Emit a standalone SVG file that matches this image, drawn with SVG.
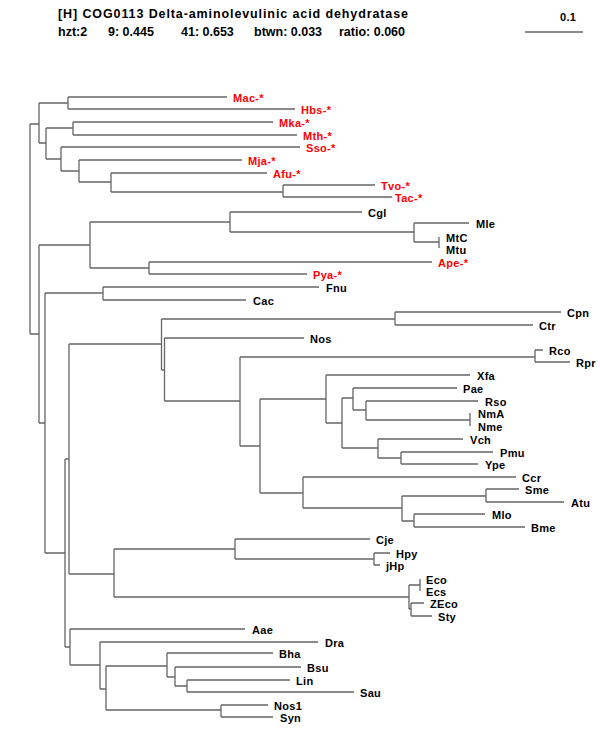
<svg xmlns="http://www.w3.org/2000/svg" width="600" height="750" viewBox="0 0 600 750">
<style>
.b{fill:none;stroke:#666;stroke-width:1.3}
.t{font-family:"Liberation Sans",Arial,sans-serif;font-weight:bold;font-size:12.5px;fill:#000}
.l{font-family:"Liberation Sans",Arial,sans-serif;font-weight:bold;font-size:11px;letter-spacing:0.3px;fill:#000}
.r{fill:#f00}
</style>
<rect width="600" height="750" fill="#fff"/>
<g id="header">
<text class="t" x="58" y="18" textLength="350" lengthAdjust="spacing">[H] COG0113 Delta-aminolevulinic acid dehydratase</text>
<text class="t" y="36"><tspan x="58">hzt:2</tspan><tspan x="108">9: 0.445</tspan><tspan x="181">41: 0.653</tspan><tspan x="254">btwn: 0.033</tspan><tspan x="339">ratio: 0.060</tspan></text>
</g>
<g id="scale">
<text class="l" x="560" y="21">0.1</text>
<path class="b" d="M525 32H583"/>
</g>
<g id="connectors">
<path class="b" d="M30 124V334M39 103V143M68 97V109M46 128V159M73 122V135M61 147V171M79 160V182M111 173V192M283 185V197M39 245V423M90 222V268M230 212V232M414 223V242M439 237V248M149 262V274M45 293V553M103 287V300M65 459V647M69 344V574M161.5 319V370M395 312V325M164.5 338V401M240 357V446M535 350V362M260 399V493M326 375V423M342 398V448M353 388V410M366 401V420M470 413V426M378 439V458M401 452V464M303 477V508M402 496V521M486 489V502M414 514V527M114 549V597M235 539V559M374 553V565M409 585V609M420 579V591M411 603V616M70 629V665M100 642V689M106 666V710M167 653V677M175 667V686M187 680V692M221 705V717"/>
<path class="b" d="M30 124H39M39 103H68M68 97H227M68 109H295M39 143H46M46 128H73M73 122H273M73 135H297M46 159H61M61 147H300M61 171H79M79 160H242M79 182H111M111 173H267M111 192H283M283 185H375M283 197H392M30 334H39M39 245H90M90 222H230M230 212H362M230 232H414M414 223H469M414 242H439M90 268H149M149 262H432M149 274H307M39 423H45M45 293H103M103 287H319M103 300H246M45 553H65M65 459H69M69 344H161.5M161.5 319H395M395 312H561M395 325H533M161.5 370H164.5M164.5 338H304M164.5 401H240M240 357H535M535 350H543M535 362H570M240 446H260M260 399H326M326 375H470M326 423H342M342 398H353M353 388H457M353 410H366M366 401H478M366 420H470M342 448H378M378 439H463M378 458H401M401 452H493M401 464H478M260 493H303M303 477H516M303 508H402M402 496H486M486 489H519M486 502H564M402 521H414M414 514H485M414 527H525M69 574H114M114 549H235M235 539H370M235 559H374M374 553H390M374 565H380M114 597H409M409 585H420M409 609H411M411 603H424M411 616H432M65 647H70M70 629H245M70 665H100M100 642H318M100 689H106M106 666H167M167 653H273M167 677H175M175 667H301M175 686H187M187 680H290M187 692H354M106 710H221M221 705H268M221 717H273"/>
</g>
<g id="Mac"><text class="l r" x="233" y="102">Mac-*</text></g>
<g id="Hbs"><text class="l r" x="301" y="114">Hbs-*</text></g>
<g id="Mka"><text class="l r" x="279" y="127">Mka-*</text></g>
<g id="Mth"><text class="l r" x="303" y="140">Mth-*</text></g>
<g id="Sso"><text class="l r" x="306" y="152">Sso-*</text></g>
<g id="Mja"><text class="l r" x="248" y="165">Mja-*</text></g>
<g id="Afu"><text class="l r" x="273" y="178">Afu-*</text></g>
<g id="Tvo"><text class="l r" x="381" y="190">Tvo-*</text></g>
<g id="Tac"><text class="l r" x="395" y="202">Tac-*</text></g>
<g id="Cgl"><text class="l" x="368" y="217">Cgl</text></g>
<g id="Mle"><text class="l" x="476" y="228">Mle</text></g>
<g id="MtC"><text class="l" x="446" y="242">MtC</text></g>
<g id="Mtu"><text class="l" x="446" y="254">Mtu</text></g>
<g id="Ape"><text class="l r" x="438" y="267">Ape-*</text></g>
<g id="Pya"><text class="l r" x="313" y="279">Pya-*</text></g>
<g id="Fnu"><text class="l" x="326" y="292">Fnu</text></g>
<g id="Cac"><text class="l" x="253" y="305">Cac</text></g>
<g id="Cpn"><text class="l" x="567" y="317">Cpn</text></g>
<g id="Ctr"><text class="l" x="539" y="330">Ctr</text></g>
<g id="Nos"><text class="l" x="310" y="343">Nos</text></g>
<g id="Rco"><text class="l" x="549" y="355">Rco</text></g>
<g id="Rpr"><text class="l" x="576" y="367">Rpr</text></g>
<g id="Xfa"><text class="l" x="477" y="380">Xfa</text></g>
<g id="Pae"><text class="l" x="463" y="393">Pae</text></g>
<g id="Rso"><text class="l" x="485" y="406">Rso</text></g>
<g id="NmA"><text class="l" x="478" y="418">NmA</text></g>
<g id="Nme"><text class="l" x="478" y="431">Nme</text></g>
<g id="Vch"><text class="l" x="470" y="444">Vch</text></g>
<g id="Pmu"><text class="l" x="500" y="457">Pmu</text></g>
<g id="Ype"><text class="l" x="485" y="469">Ype</text></g>
<g id="Ccr"><text class="l" x="522" y="482">Ccr</text></g>
<g id="Sme"><text class="l" x="525" y="494">Sme</text></g>
<g id="Atu"><text class="l" x="571" y="507">Atu</text></g>
<g id="Mlo"><text class="l" x="492" y="519">Mlo</text></g>
<g id="Bme"><text class="l" x="531" y="532">Bme</text></g>
<g id="Cje"><text class="l" x="376" y="544">Cje</text></g>
<g id="Hpy"><text class="l" x="396" y="558">Hpy</text></g>
<g id="jHp"><text class="l" x="386" y="570">jHp</text></g>
<g id="Eco"><text class="l" x="426" y="584">Eco</text></g>
<g id="Ecs"><text class="l" x="426" y="596">Ecs</text></g>
<g id="ZEco"><text class="l" x="430" y="608">ZEco</text></g>
<g id="Sty"><text class="l" x="438" y="621">Sty</text></g>
<g id="Aae"><text class="l" x="252" y="634">Aae</text></g>
<g id="Dra"><text class="l" x="325" y="647">Dra</text></g>
<g id="Bha"><text class="l" x="279" y="658">Bha</text></g>
<g id="Bsu"><text class="l" x="307" y="672">Bsu</text></g>
<g id="Lin"><text class="l" x="296" y="685">Lin</text></g>
<g id="Sau"><text class="l" x="360" y="697">Sau</text></g>
<g id="Nos1"><text class="l" x="274" y="710">Nos1</text></g>
<g id="Syn"><text class="l" x="280" y="722">Syn</text></g>
</svg>
